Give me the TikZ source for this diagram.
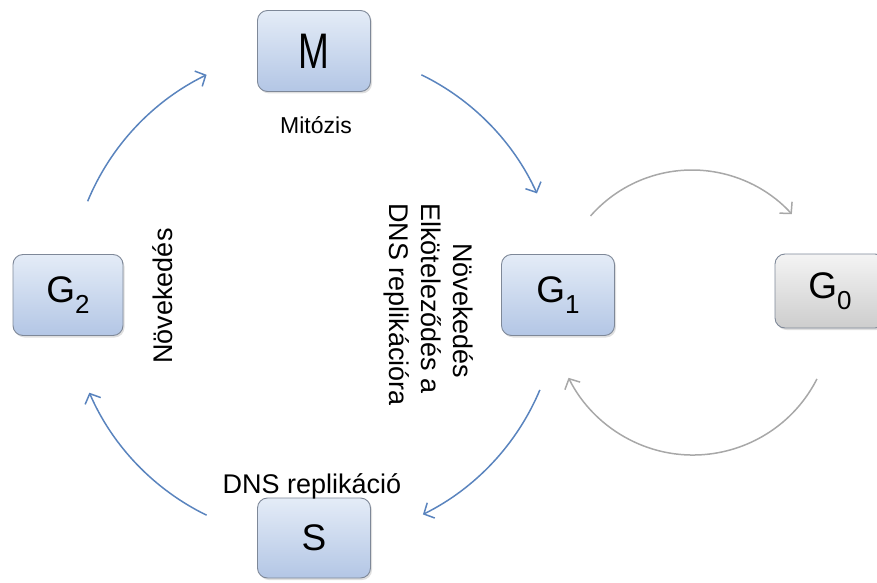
\documentclass[tikz,border=0pt]{standalone}
\usepackage{fontspec}
\usepackage{graphicx}
\setmainfont{Liberation Sans}
\usetikzlibrary{arrows.meta,shadows}
\definecolor{boxtop}{HTML}{E4ECF7}
\definecolor{boxbot}{HTML}{B3C6E5}
\definecolor{boxline}{HTML}{7E8898}
\definecolor{greytop}{HTML}{F4F4F4}
\definecolor{greybot}{HTML}{CDCDCD}
\definecolor{cyclearrow}{HTML}{5A84BE}
\definecolor{restarrow}{HTML}{A8A8A8}
\newcommand\Gsub[1]{G\raisebox{-0.3em}{\fontsize{26}{26}\selectfont #1}}
\tikzset{
  phase/.style={draw=boxline, line width=0.9pt, rounded corners=10pt,
    top color=boxtop, bottom color=boxbot, minimum width=113pt,
    minimum height=81pt, inner sep=0pt, font=\fontsize{37}{40}\selectfont,
    drop shadow={opacity=0.25, shadow xshift=1.5pt, shadow yshift=-2pt}},
  restphase/.style={phase, top color=greytop, bottom color=greybot},
  lbl/.style={font=\fontsize{27}{30}\selectfont, inner sep=0pt},
  cyc/.style={draw=cyclearrow, line width=1.5pt,
    -{Straight Barb[length=8pt,width=17pt,line width=1.5pt]}},
  rest/.style={draw=restarrow, line width=1.5pt,
    -{Straight Barb[length=8pt,width=17pt,line width=1.5pt]}}
}
\begin{document}
\begin{tikzpicture}[x=1pt,y=1pt]
\useasboundingbox (0,0) rectangle (877,582);
% phase boxes
\node[phase] (M) at (314,531) {\scalebox{1}[1.35]{M}};
\node[phase] (G1) at (558,287) {\Gsub{1}};
\node[restphase, minimum width=110pt, minimum height=74pt] (G0) at (830,291) {\Gsub{0}};
\node[phase, minimum width=110pt] (G2) at (68,287) {\Gsub{2}};
\node[phase, minimum height=80pt] (S) at (314,44) {S};
% labels
\node[lbl, anchor=base, font=\fontsize{23}{26}\selectfont] (mit) at (316,448) {Mitózis};
\node[lbl, anchor=base] (dns) at (312,89) {DNS replikáció};
\node[lbl, anchor=base, rotate=90] (nov2) at (172,286) {Növekedés};
\node[lbl, anchor=base west, rotate=-90] (nov1) at (453,339) {Növekedés};
\node[lbl, anchor=base west, rotate=-90] (elk) at (421,379) {Elköteleződés a};
\node[lbl, anchor=base west, rotate=-90] (dnsr) at (389,379) {DNS replikációra};
% cycle arcs
\coordinate (c) at (314,287);
\draw[cyc] ([shift={(157.5:245)}]c) arc[start angle=157.5, end angle=116, radius=245];
\draw[cyc] ([shift={(64:245)}]c) arc[start angle=64, end angle=24.5, radius=245];
\draw[cyc] ([shift={(-22.8:245)}]c) arc[start angle=-22.8, end angle=-63.6, radius=245];
\draw[cyc] ([shift={(-116:245)}]c) arc[start angle=-116, end angle=-156.5, radius=245];
% G0 arcs
\coordinate (cu) at (692,277);
\coordinate (cl) at (693,266);
\draw[rest] ([shift={(138.7:135)}]cu) arc[start angle=138.7, end angle=42.3, radius=135];
\draw[rest] ([shift={(-26.9:139)}]cl) arc[start angle=-26.9, end angle=-153.6, radius=139];
\end{tikzpicture}
\end{document}
